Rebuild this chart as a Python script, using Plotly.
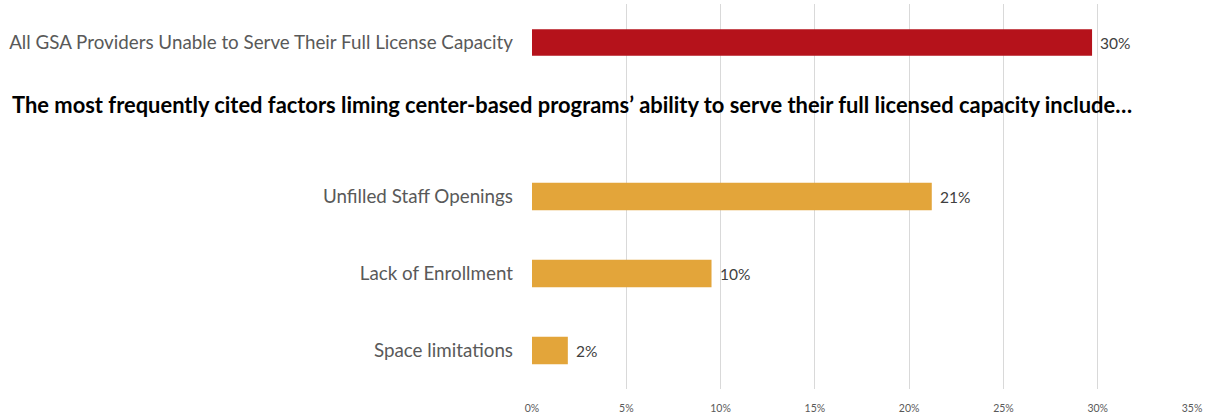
import plotly.graph_objects as go

categories = [
    "All GSA Providers Unable to Serve Their Full License Capacity",
    " ",
    "Unfilled Staff Openings",
    "Lack of Enrollment",
    "Space limitations",
]
overall_values = [29.7, None, None, None, None]
factor_values = [None, None, 21.2, 9.52, 1.9]
tick_vals = [0, 5, 10, 15, 20, 25, 30, 35]
tick_text = ["0%", "5%", "10%", "15%", "20%", "25%", "30%", "35%"]
title_text = "The most frequently cited factors liming center-based programs\u2019 ability to serve their full licensed capacity include\u2026"

FONT = "Lato"
fig = go.Figure()
fig.add_trace(go.Bar(
    y=categories, x=overall_values, orientation="h",
    marker=dict(color="#B5121B", line=dict(width=0)),
    width=0.345,
))
fig.add_trace(go.Bar(
    y=categories, x=factor_values, orientation="h",
    marker=dict(color="#E3A53A", line=dict(width=0)),
    width=0.355,
))
for vals in (overall_values, factor_values):
    for cat, v in zip(categories, vals):
        if v is None:
            continue
        fig.add_annotation(
            x=v, y=cat, xref="x", yref="y", text=f"{v:.0f}%",
            xanchor="left", yanchor="middle", xshift=6, showarrow=False,
            font=dict(family=FONT, size=15.5, color="#404040"),
        )
fig.update_layout(
    width=1207, height=415,
    margin=dict(l=532, r=15, t=4, b=26),
    barmode="overlay", showlegend=False,
    paper_bgcolor="white", plot_bgcolor="white",
    font=dict(family=FONT, color="#595959"),
    xaxis=dict(range=[0, 35], tickvals=tick_vals, ticktext=tick_text,
               showgrid=True, gridcolor="#D9D9D9", gridwidth=1,
               zeroline=False, showline=False, ticklabelstandoff=11,
               automargin=False,
               tickfont=dict(family=FONT, size=10.5, color="#595959")),
    yaxis=dict(categoryorder="array", categoryarray=categories,
               autorange="reversed", showgrid=False, showline=False,
               ticks="", ticklabelstandoff=18, automargin=False,
               tickfont=dict(family=FONT, size=18.8, color="#595959")),
)
fig.add_annotation(
    text="<b>" + title_text + "</b>", xref="paper", yref="paper",
    x=(10 - 532) / 660, y=(389.4 - 105) / 385.4, xanchor="left", yanchor="middle",
    showarrow=False, font=dict(family=FONT, size=21.9, color="black"),
)
fig.write_html("out.html")
